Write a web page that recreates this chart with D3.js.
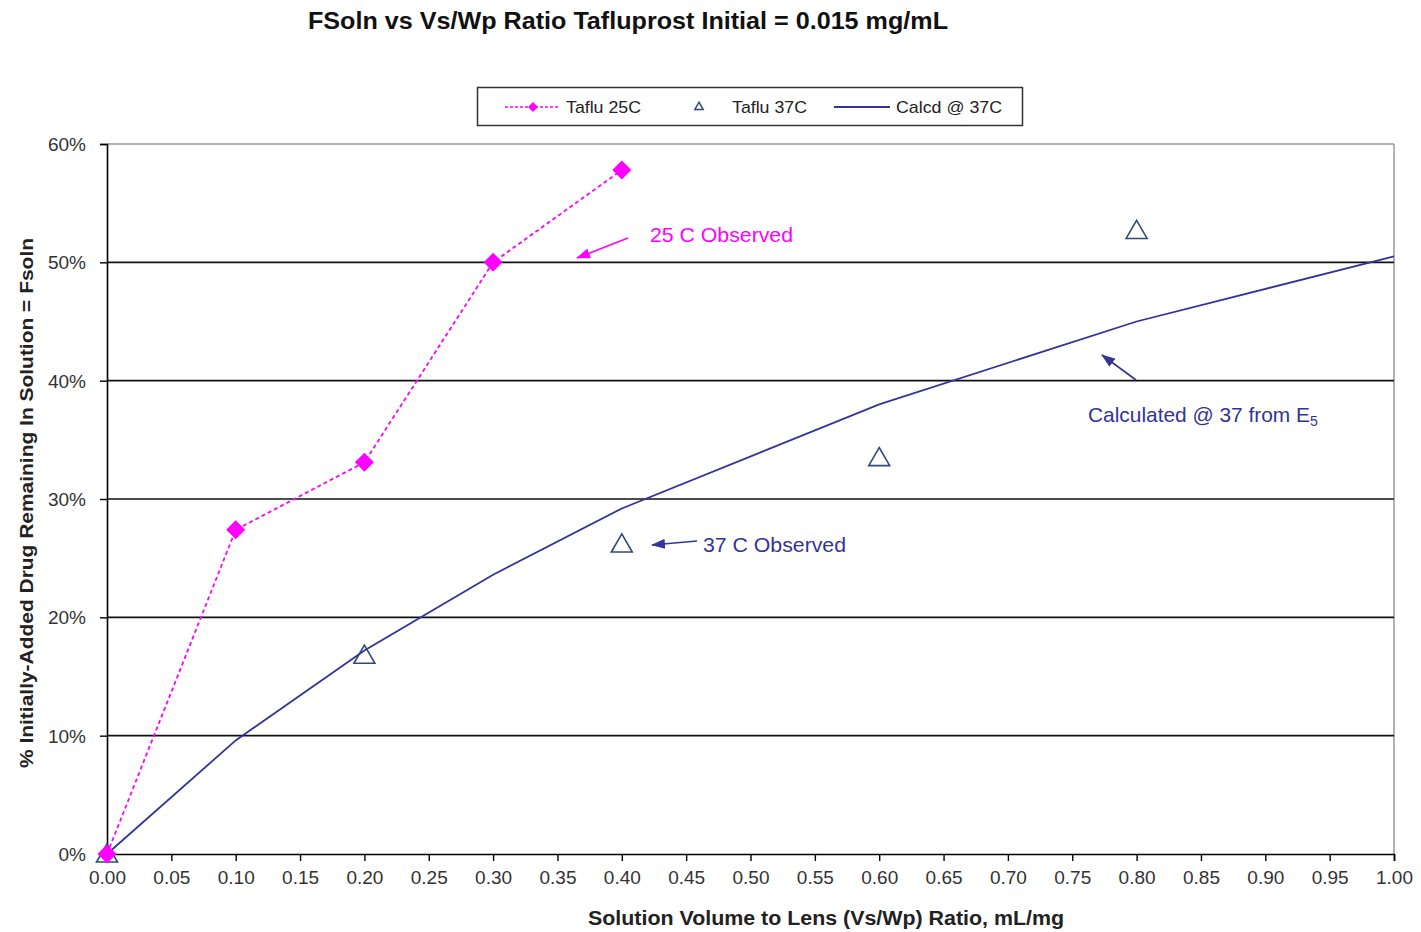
<!DOCTYPE html>
<html><head><meta charset="utf-8">
<script src="https://cdn.jsdelivr.net/npm/d3@7"></script>
<style>body{margin:0;background:#fff}svg{display:block;font-family:"Liberation Sans",Arial,sans-serif}</style>
</head><body><svg id="c" width="1421" height="932"></svg>
<script>
const xTicks = [0,0.05,0.1,0.15,0.2,0.25,0.3,0.35,0.4,0.45,0.5,0.55,0.6,0.65,0.7,0.75,0.8,0.85,0.9,0.95,1.0];
const yTicks = [0,0.1,0.2,0.3,0.4,0.5,0.6];
const taflu25X = [0,0.1,0.2,0.3,0.4];
const taflu25Y = [0,0.274,0.331,0.50,0.578];
const taflu37X = [0,0.2,0.4,0.6,0.8];
const taflu37Y = [0,0.168,0.262,0.335,0.527];
const calcX = [0,0.1,0.2,0.3,0.4,0.6,0.8,1.0];
const calcY = [0,0.096,0.172,0.236,0.292,0.380,0.450,0.505];

const svg = d3.select("#c");
const L=107,R=1394,T=144,B=854;
const x = d3.scaleLinear().domain([0,1]).range([L,R]);
const y = d3.scaleLinear().domain([0,0.6]).range([B,T]);
const navy="#333399", mag="#FF00FF", triC="#2F4A7A";

// title
svg.append("text").attr("x",628).attr("y",29).attr("text-anchor","middle")
  .attr("font-size",23).attr("font-weight","bold").attr("fill","#111")
  .attr("textLength",640).attr("lengthAdjust","spacingAndGlyphs")
  .text("FSoln vs Vs/Wp Ratio Tafluprost Initial = 0.015 mg/mL");

// frame top/right
svg.append("line").attr("x1",L).attr("x2",R).attr("y1",T).attr("y2",T).attr("stroke","#999").attr("stroke-width",1.5);
svg.append("line").attr("x1",R).attr("x2",R).attr("y1",T).attr("y2",B).attr("stroke","#999").attr("stroke-width",1.5);
// gridlines
svg.append("g").selectAll("line").data(yTicks.filter(d=>d>0&&d<0.6)).join("line")
  .attr("x1",L).attr("x2",R).attr("y1",d=>y(d)).attr("y2",d=>y(d)).attr("stroke","#111").attr("stroke-width",1.6);

// axes
const xa = svg.append("g").attr("transform",`translate(0,${B})`)
  .call(d3.axisBottom(x).tickValues(xTicks).tickSize(7).tickFormat(d3.format(".2f")));
const ya = svg.append("g").attr("transform",`translate(${L},0)`)
  .call(d3.axisLeft(y).tickValues(yTicks).tickSize(7).tickFormat(d3.format(".0%")));
[xa,ya].forEach(a=>{a.select(".domain").attr("stroke","#000").attr("stroke-width",1.6);
  a.selectAll(".tick line").attr("stroke","#000").attr("stroke-width",1.4);
  a.selectAll("text").attr("font-size",19).attr("fill","#333").attr("font-family","Liberation Sans, Arial, sans-serif");});
xa.selectAll("text").attr("dy","1.05em");
ya.selectAll(".tick text").attr("x",-21).attr("dy","0.35em");

// axis titles
svg.append("text").attr("x",826).attr("y",925).attr("text-anchor","middle").attr("font-size",20).attr("font-weight","bold")
  .attr("fill","#222").attr("textLength",476).attr("lengthAdjust","spacingAndGlyphs")
  .text("Solution Volume to Lens (Vs/Wp) Ratio, mL/mg");
svg.append("text").attr("transform","translate(33,503) rotate(-90)").attr("text-anchor","middle").attr("font-size",19)
  .attr("font-weight","bold").attr("fill","#222").attr("textLength",530).attr("lengthAdjust","spacingAndGlyphs")
  .text("% Initially-Added Drug Remaining In Solution = Fsoln");

// calc line
const line = d3.line().x(d=>x(d[0])).y(d=>y(d[1]));
svg.append("path").datum(d3.zip(calcX,calcY)).attr("d",line).attr("fill","none").attr("stroke",navy).attr("stroke-width",1.8);
// 25C line
svg.append("path").datum(d3.zip(taflu25X,taflu25Y)).attr("d",line).attr("fill","none").attr("stroke",mag)
  .attr("stroke-width",1.8).attr("stroke-dasharray","4,3");
// triangles
const tri = d3.symbol().type(d3.symbolTriangle).size(190);
svg.append("g").selectAll("path").data(d3.zip(taflu37X,taflu37Y)).join("path")
  .attr("d",tri).attr("transform",d=>`translate(${x(d[0])},${y(d[1])+2})`).attr("fill","none").attr("stroke",triC).attr("stroke-width",1.6);
// diamonds
const dia = d3.symbol().type(d3.symbolSquare).size(180);
svg.append("g").selectAll("path").data(d3.zip(taflu25X,taflu25Y)).join("path")
  .attr("d",dia).attr("transform",d=>`translate(${x(d[0])},${y(d[1])}) rotate(45)`).attr("fill",mag);

// annotations
const defs = svg.append("defs");
[["am",mag],["an",navy]].forEach(([id,c])=>{
  defs.append("marker").attr("id",id).attr("viewBox","0 0 14 10").attr("refX",13).attr("refY",5)
    .attr("markerUnits","userSpaceOnUse").attr("markerWidth",14).attr("markerHeight",10).attr("orient","auto")
    .append("path").attr("d","M0,0 L14,5 L0,10 z").attr("fill",c);
});
svg.append("line").attr("x1",628).attr("y1",238).attr("x2",577).attr("y2",258).attr("stroke",mag).attr("stroke-width",1.6).attr("marker-end","url(#am)");
svg.append("text").attr("x",650).attr("y",242).attr("font-size",21).attr("fill",mag)
  .attr("textLength",143).attr("lengthAdjust","spacingAndGlyphs").text("25 C Observed");
svg.append("line").attr("x1",697).attr("y1",541).attr("x2",652).attr("y2",545).attr("stroke",navy).attr("stroke-width",1.6).attr("marker-end","url(#an)");
svg.append("text").attr("x",703).attr("y",552).attr("font-size",21).attr("fill",navy)
  .attr("textLength",143).attr("lengthAdjust","spacingAndGlyphs").text("37 C Observed");
svg.append("line").attr("x1",1136).attr("y1",380).attr("x2",1102).attr("y2",355).attr("stroke",navy).attr("stroke-width",1.6).attr("marker-end","url(#an)");
const ct = svg.append("text").attr("x",1088).attr("y",422).attr("font-size",21).attr("fill",navy);
ct.append("tspan").attr("textLength",222).attr("lengthAdjust","spacingAndGlyphs").text("Calculated @ 37 from E");
ct.append("tspan").attr("font-size",14).attr("dy",4).text("5");

// legend
svg.append("rect").attr("x",477.5).attr("y",87.5).attr("width",545).attr("height",38).attr("fill","#fff").attr("stroke","#333").attr("stroke-width",1.5);
const ly=107;
svg.append("line").attr("x1",505).attr("x2",560).attr("y1",ly).attr("y2",ly).attr("stroke",mag).attr("stroke-width",1.6).attr("stroke-dasharray","3,2");
svg.append("path").attr("d",d3.symbol().type(d3.symbolSquare).size(50)).attr("transform",`translate(533,${ly}) rotate(45)`).attr("fill",mag);
svg.append("text").attr("x",566).attr("y",ly+6).attr("font-size",17).attr("fill","#222").attr("textLength",75).attr("lengthAdjust","spacingAndGlyphs").text("Taflu 25C");
svg.append("path").attr("d",d3.symbol().type(d3.symbolTriangle).size(30)).attr("transform",`translate(699,${ly})`).attr("fill","none").attr("stroke",triC).attr("stroke-width",1.5);
svg.append("text").attr("x",732).attr("y",ly+6).attr("font-size",17).attr("fill","#222").attr("textLength",75).attr("lengthAdjust","spacingAndGlyphs").text("Taflu 37C");
svg.append("line").attr("x1",834).attr("x2",890).attr("y1",ly).attr("y2",ly).attr("stroke",navy).attr("stroke-width",1.8);
svg.append("text").attr("x",896).attr("y",ly+6).attr("font-size",17).attr("fill","#222").attr("textLength",106).attr("lengthAdjust","spacingAndGlyphs").text("Calcd @ 37C");
</script></body></html>
